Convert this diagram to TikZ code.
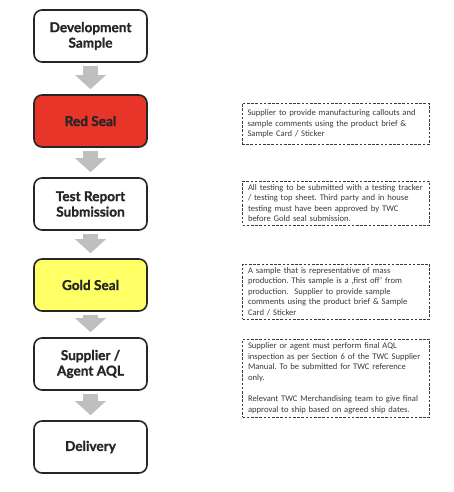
\documentclass[tikz,border=0pt]{standalone}
\usepackage{fontspec}
\setmainfont{Carlito}
\newfontfamily\headfont[BoldFeatures={FakeBold=1.2}]{Lato}
\usetikzlibrary{arrows.meta}
\frenchspacing
\definecolor{sealred}{HTML}{E8352A}
\definecolor{sealgold}{HTML}{FFFF66}
\definecolor{boxline}{HTML}{262626}
\definecolor{arrowgray}{HTML}{BFBFBF}
\definecolor{notegray}{HTML}{3A3A3A}
\tikzset{
  stage/.style={draw=boxline, line width=1.6pt, rounded corners=8pt, fill=white,
    minimum width=113pt, minimum height=52pt, align=center, inner sep=2pt,
    font=\headfont\bfseries\fontsize{13.6}{15.5}\selectfont, text=boxline},
  note/.style={draw=notegray, line width=0.8pt, dash pattern=on 2.6pt off 1.6pt,
    minimum width=187pt, text width=176pt, inner xsep=5.5pt, inner ysep=1.5pt,
    align=left, font=\fontsize{8.6}{10.6}\selectfont\frenchspacing, text=notegray},
  bigarrow/.style={draw=arrowgray, line width=15pt,
    -{Triangle[width=30pt,length=14pt]}, shorten <=3pt, shorten >=5pt}
}
\begin{document}
\begin{tikzpicture}[x=1pt,y=-1pt]
\useasboundingbox (0,0) rectangle (454,492);
\node[stage] (dev) at (90.5,36) {Development\\Sample};
\node[stage, fill=sealred] (red) at (90.5,121) {Red Seal};
\node[stage] (test) at (90.5,204) {Test Report\\Submission};
\node[stage, fill=sealgold] (gold) at (90.5,285) {Gold Seal};
\node[stage] (aql) at (90.5,364) {Supplier /\\Agent AQL};
\node[stage] (deliv) at (90.5,447) {Delivery};

\draw[bigarrow] (dev) -- (red);
\draw[bigarrow] (red) -- (test);
\draw[bigarrow] (test) -- (gold);
\draw[bigarrow] (gold) -- (aql);
\draw[bigarrow] (aql) -- (deliv);

\node[note, minimum height=41pt] (n1) at (335.5,124)
  {Supplier to provide manufacturing callouts and\\
   sample comments using the product brief \&\\
   Sample Card / Sticker};
\node[note, minimum height=44pt] (n2) at (336,203)
  {All testing to be submitted with a testing tracker\\
   / testing top sheet. Third party and in house\\
   testing must have been approved by TWC\\
   before Gold seal submission.};
\node[note, minimum height=55pt] (n3) at (336,291.5)
  {A sample that is representative of mass\\
   production. This sample is a ‚first off’ from\\
   production.\ \ Supplier to provide sample\\
   comments using the product brief \& Sample\\
   Card / Sticker};
\node[note, minimum height=78pt] (n4) at (336,378)
  {Supplier or agent must perform final AQL\\
   inspection as per Section 6 of the TWC Supplier\\
   Manual. To be submitted for TWC reference\\
   only.\\[10.6pt]
   Relevant TWC Merchandising team to give final\\
   approval to ship based on agreed ship dates.};
\end{tikzpicture}
\end{document}
